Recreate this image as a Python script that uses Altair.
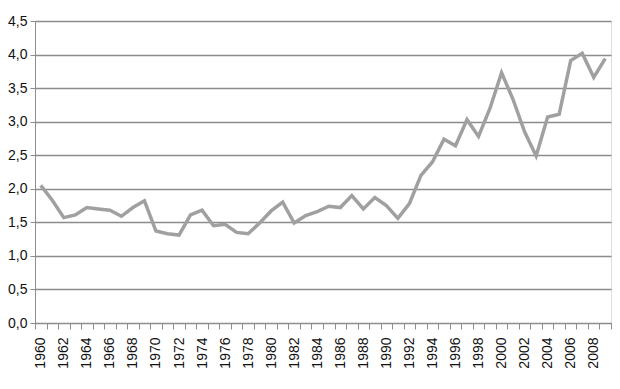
import altair as alt
import pandas as pd

years = list(range(1960, 2010))
values = [2.05, 1.83, 1.57, 1.61, 1.72, 1.70, 1.68, 1.59, 1.72, 1.82,
          1.37, 1.33, 1.31, 1.61, 1.68, 1.45, 1.47, 1.35, 1.33, 1.49,
          1.67, 1.80, 1.49, 1.60, 1.66, 1.74, 1.72, 1.90, 1.70, 1.87,
          1.75, 1.56, 1.78, 2.20, 2.40, 2.74, 2.64, 3.03, 2.78, 3.20,
          3.73, 3.33, 2.85, 2.49, 3.07, 3.11, 3.91, 4.02, 3.66, 3.94]
y_ticks = [0, 0.5, 1.0, 1.5, 2.0, 2.5, 3.0, 3.5, 4.0, 4.5]

df = pd.DataFrame({"year": years, "value": values})

FONT = "Liberation Sans"
GRAY = "#8c8c8c"

chart = alt.Chart(df).mark_line(color="#a0a0a0", strokeWidth=3.5).encode(
    x=alt.X(
        "year:O",
        bandPosition=0.5,
        scale=alt.Scale(type="band", paddingInner=0, paddingOuter=0),
        axis=alt.Axis(
            title=None,
            labelAngle=-90,
            labelExpr="toNumber(datum.value) % 2 == 0 ? datum.label : ''",
            labelOverlap=False,
            tickBand="extent",
            tickSize=6,
            labelPadding=8,
            labelFontSize=14,
            labelFont=FONT,
            labelColor="#111111",
            domainColor=GRAY,
            tickColor=GRAY,
            grid=False,
        ),
    ),
    y=alt.Y(
        "value:Q",
        scale=alt.Scale(domain=[0, 4.5], nice=False),
        axis=alt.Axis(
            title=None,
            values=y_ticks,
            labelExpr="replace(format(datum.value, '.1f'), '.', ',')",
            tickSize=5,
            labelPadding=3,
            labelFontSize=14,
            labelFont=FONT,
            labelColor="#111111",
            domainColor=GRAY,
            tickColor=GRAY,
            gridColor=GRAY,
            gridWidth=1.5,
        ),
    ),
).properties(
    width=576,
    height=302,
    autosize=alt.AutoSizeParams(type="none"),
    padding={"left": 27, "top": 13, "right": 1, "bottom": 50},
).configure_view(stroke=None).configure(background="white")

chart.save("out.html", embed_options={"renderer": "svg", "actions": False})
